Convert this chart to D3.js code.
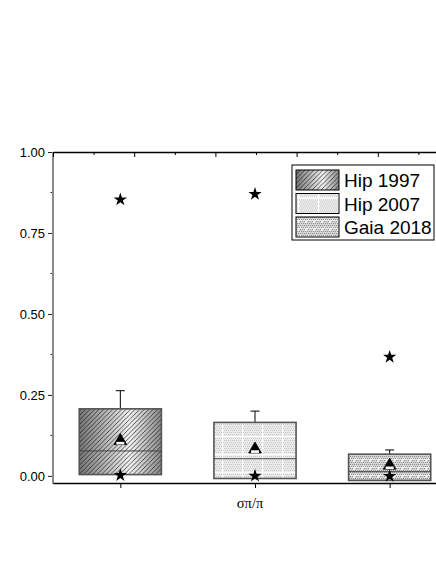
<!DOCTYPE html>
<html>
<head>
<meta charset="utf-8">
<script src="https://cdn.jsdelivr.net/npm/d3@7"></script>
<style>
  body { margin: 0; background: #fff; }
  text { font-family: Arial, "Liberation Sans", sans-serif; }
</style>
</head>
<body>
<script>
// data
var categories = ["Hip 1997", "Hip 2007", "Gaia 2018"];
var q1 = [0.004, -0.008, -0.014];
var medians = [0.077, 0.053, 0.013];
var q3 = [0.207, 0.165, 0.067];
var whiskerTop = [0.263, 0.200, 0.080];
var means = [0.108, 0.082, 0.032];
var minVals = [0.002, 0.000, -0.001];
var maxVals = [0.853, 0.870, 0.367];
var yTicks = [0, 0.25, 0.5, 0.75, 1.0];
var xLabel = "σπ/π";

var width = 436, height = 564;

var svg = d3.select("body").append("svg")
    .attr("width", width)
    .attr("height", height);

//scales
var x = d3.scaleLinear().domain([0.5, 3.5]).range([53, 457]);
var y = d3.scaleLinear().domain([-0.022, 1]).range([483, 152]);
var xTop = d3.scaleLinear().domain([0, 10]).range([53, 459]);

var defs = svg.append("defs");

//gradient for Hip 1997
var grad = defs.append("linearGradient").attr("id", "g97")
    .attr("x1", "0%").attr("x2", "100%").attr("y1", "0%").attr("y2", "0%");
grad.append("stop").attr("offset", "0%").attr("stop-color", "#777");
grad.append("stop").attr("offset", "62%").attr("stop-color", "#f4f4f4");
grad.append("stop").attr("offset", "100%").attr("stop-color", "#8a8a8a");

var hatch = defs.append("pattern").attr("id", "h97")
    .attr("patternUnits", "userSpaceOnUse").attr("width", 4.5).attr("height", 4.5);
hatch.append("path").attr("d", "M-1,5.5 L5.5,-1 M-1,1 L1,-1 M3.5,5.5 L5.5,3.5")
    .attr("stroke", "#111").attr("stroke-width", 0.7);

//dither + white grid for Hip 2007
var p07 = defs.append("pattern").attr("id", "p07")
    .attr("patternUnits", "userSpaceOnUse").attr("width", 20).attr("height", 18)
    .attr("x", 2).attr("y", 4);
p07.append("rect").attr("width", 20).attr("height", 18).attr("fill", "#ececec");
for (var i = 0; i < 20; i += 2) {
  for (var j = 0; j < 18; j += 2) {
    p07.append("rect").attr("x", i + (j % 4 ? 1 : 0)).attr("y", j).attr("width", 1).attr("height", 1).attr("fill", "#c4c4c4");
  }
}
p07.append("rect").attr("x", 0).attr("y", 0).attr("width", 1.2).attr("height", 18).attr("fill", "#fff");
p07.append("rect").attr("x", 0).attr("y", 0).attr("width", 20).attr("height", 1.2).attr("fill", "#fff");

//dither + diagonal dashes for Gaia 2018
var pg = defs.append("pattern").attr("id", "pg")
    .attr("patternUnits", "userSpaceOnUse").attr("width", 8).attr("height", 8);
pg.append("rect").attr("width", 8).attr("height", 8).attr("fill", "#d6d6d6");
for (var a = 0; a < 8; a += 2) {
  for (var b = 0; b < 8; b += 2) {
    pg.append("rect").attr("x", a + (b % 4 ? 1 : 0)).attr("y", b).attr("width", 1).attr("height", 1).attr("fill", "#8e8e8e");
  }
}
pg.append("path").attr("d", "M1,6 L5,2").attr("stroke", "#fff").attr("stroke-width", 1);
pg.append("rect").attr("x", 0).attr("y", 3).attr("width", 8).attr("height", 0.8).attr("fill", "#f6f6f6");

var fills = [["url(#g97)", "url(#h97)"], ["url(#p07)"], ["url(#pg)"]];

//axes
var leftAxis = svg.append("g").attr("transform", "translate(53,0)")
    .call(d3.axisLeft(y).tickValues(yTicks).tickFormat(d3.format(".2f")).tickSize(5).tickPadding(3));
leftAxis.select(".domain").remove();
leftAxis.selectAll("text").attr("font-size", 13).attr("fill", "#000");
leftAxis.selectAll("line").attr("stroke", "#222");
svg.append("g").attr("transform", "translate(53,0)")
    .selectAll("line").data([0.125, 0.375, 0.625, 0.875]).enter().append("line")
    .attr("x1", -2.5).attr("x2", 0).attr("y1", y).attr("y2", y).attr("stroke", "#222");
svg.append("line").attr("x1", 53).attr("x2", 53).attr("y1", 152).attr("y2", 484)
    .attr("stroke", "#8a8a8a").attr("stroke-width", 2);

var bottomAxis = svg.append("g").attr("transform", "translate(0,483)")
    .call(d3.axisBottom(x).tickValues([1, 2, 3]).tickFormat("").tickSize(5).tickSizeOuter(0));
bottomAxis.select(".domain").attr("stroke", "#000").attr("stroke-width", 1.5);

var topAxis = svg.append("g").attr("transform", "translate(0,152)")
    .call(d3.axisTop(xTop).ticks(10).tickFormat("").tickSize(0).tickSizeOuter(0));
topAxis.select(".domain").attr("stroke", "#000").attr("stroke-width", 1.5);
topAxis.selectAll(".tick line")
    .attr("y1", 0).attr("y2", function(d){ return d % 2 === 0 ? 5 : 3; })
    .attr("stroke", "#000");

svg.append("text").attr("x", x(2) - 5).attr("y", 508)
    .attr("text-anchor", "middle")
    .style("font-family", "'Liberation Serif', 'Times New Roman', serif")
    .attr("font-size", 14.5).text(xLabel);

//boxes
var bw = 0.61;
var boxes = svg.selectAll(".box").data(categories).enter().append("g").attr("class", "box");

boxes.append("line")
    .attr("x1", function(d, i){ return x(i + 1); }).attr("x2", function(d, i){ return x(i + 1); })
    .attr("y1", function(d, i){ return y(whiskerTop[i]); }).attr("y2", function(d, i){ return y(q3[i]); })
    .attr("stroke", "#000");
boxes.append("line")
    .attr("x1", function(d, i){ return x(i + 1) - 4.5; }).attr("x2", function(d, i){ return x(i + 1) + 4.5; })
    .attr("y1", function(d, i){ return y(whiskerTop[i]); }).attr("y2", function(d, i){ return y(whiskerTop[i]); })
    .attr("stroke", "#000");

boxes.each(function(d, i){
  var g = d3.select(this);
  fills[i].forEach(function(f){
    g.append("rect")
      .attr("x", x(i + 1 - bw / 2)).attr("width", x(i + 1 + bw / 2) - x(i + 1 - bw / 2))
      .attr("y", y(q3[i])).attr("height", y(q1[i]) - y(q3[i]))
      .attr("fill", f);
  });
  g.append("rect")
    .attr("x", x(i + 1 - bw / 2)).attr("width", x(i + 1 + bw / 2) - x(i + 1 - bw / 2))
    .attr("y", y(q3[i])).attr("height", y(q1[i]) - y(q3[i]))
    .attr("fill", "none").attr("stroke", "#555").attr("stroke-width", 1.6);
  g.append("line")
    .attr("x1", x(i + 1 - bw / 2)).attr("x2", x(i + 1 + bw / 2))
    .attr("y1", y(medians[i])).attr("y2", y(medians[i]))
    .attr("stroke", "#444").attr("stroke-width", 1);
});

//mean markers (half-filled triangles)
var tri = d3.symbol().type(d3.symbolTriangle).size(70);
boxes.append("path")
    .attr("d", tri)
    .attr("transform", function(d, i){ return "translate(" + x(i + 1) + "," + y(means[i]) + ")"; })
    .attr("fill", "#000").attr("stroke", "#000").attr("stroke-width", 0.8);
boxes.append("rect")
    .attr("x", function(d, i){ return x(i + 1) - 4; })
    .attr("y", function(d, i){ return y(means[i]) + 1; })
    .attr("width", 8).attr("height", 2.6)
    .attr("fill", "#fff");

//min/max stars
var star = d3.symbol().type(d3.symbolStar).size(55);
svg.selectAll(".star").data(minVals.concat(maxVals)).enter().append("path")
    .attr("d", star)
    .attr("transform", function(d, i){ return "translate(" + x(i % 3 + 1) + "," + y(d) + ")"; })
    .attr("fill", "#000");

//legend
var leg = svg.append("g").attr("transform", "translate(292,165)");
leg.append("rect").attr("width", 142).attr("height", 75)
    .attr("fill", "#fff").attr("stroke", "#000").attr("stroke-width", 1);
categories.forEach(function(c, i){
  var row = leg.append("g").attr("transform", "translate(4," + (5 + i * 23.5) + ")");
  fills[i].forEach(function(f){
    row.append("rect").attr("width", 43).attr("height", 20).attr("fill", f);
  });
  row.append("rect").attr("width", 43).attr("height", 20)
    .attr("fill", "none").attr("stroke", "#000").attr("stroke-width", 1);
  row.append("text").attr("x", 48).attr("y", 17).attr("font-size", 19).text(c);
});
</script>
</body>
</html>
